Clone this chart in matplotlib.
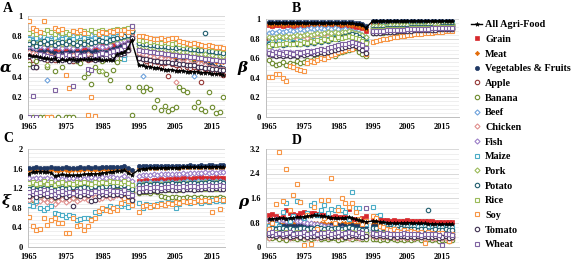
import matplotlib
matplotlib.use('Agg')
import matplotlib.pyplot as plt
from matplotlib.ticker import MultipleLocator, FixedLocator, FuncFormatter

plt.rcParams['font.family'] = ['Liberation Serif', 'DejaVu Serif']
plt.rcParams['font.weight'] = 'bold'

years = list(range(1965, 1994)) + list(range(1995, 2019))
xtick_years = [1965, 1975, 1985, 1995, 2005, 2015]
names = ['All Agri-Food', 'Grain', 'Meat', 'Vegetables & Fruits', 'Apple', 'Banana', 'Beef',
         'Chicken', 'Fish', 'Maize', 'Pork', 'Potato', 'Rice', 'Soy', 'Tomato', 'Wheat']

# ---------------- Panel A (alpha, x100) ----------------
A_all = [61,60,60,59,58,58,57,58,55,57, 56,57,57,56,57,57,57,57,57,57, 56,56,56,56,62,63,64,68,76,
         51,51,50,50,49,49,48,47,47,47, 46,46,46,45,45,45,45,44,44,44, 43,43,43,42]
A_grain = [67,68,66,67,68,67,68,66,67,66, 66,67,67,66,68,67,68,69,68,69, 70,69,70,71,72,72,73,76,82,
           68,67,67,66,66,66,65,65,64,64, 63,63,62,62,61,61,60,60,60,59, 59,58,58,57]
A_meat = [64,63,62,63,64,62,63,62,61,63, 62,62,63,62,63,63,64,63,64,63, 64,63,64,65,66,66,67,70,80,
          62,62,61,61,60,60,59,59,59,58, 58,58,57,57,57,56,56,56,55,55, 55,54,54,54]
A_veg = [66,65,65,64,66,64,65,63,62,64, 63,64,65,63,64,64,65,64,65,64, 65,64,66,67,69,70,71,73,84,
         60,60,59,59,58,58,57,57,56,56, 55,55,55,54,54,53,53,52,52,51, 51,50,50,49]
A_apple = [55,52,50,60,58,56,57,56,60,58, 59,57,55,56,57,58,56,57,58,59, 60,58,59,61,62,62,64,66,78,
           58,57,55,52,56,54,50,53,41,52, 51,48,52,50,49,50,49,35,48,47, 45,46,44,42]
A_banana = [52,0,55,0,0,50,0,46,0,50, 0,0,0,55,53,40,44,33,50,46, 55,43,37,47,54,58,60,30,2,
            30,26,30,28,10,17,7,11,6,8, 10,30,27,25,55,10,15,8,6,25, 10,4,5,20]
A_beef = [78,77,77,80,78,37,78,79,80,79, 80,81,80,79,80,81,80,81,82,80, 79,80,81,82,80,83,60,82,86,
          73,41,72,71,72,70,71,70,70,69, 71,70,69,68,69,41,66,67,66,67, 66,65,65,64]
A_chicken = [64,63,62,61,60,62,60,59,61,60, 58,60,61,59,60,61,62,60,61,62, 63,61,62,64,65,66,67,68,80,
             63,62,61,60,59,60,58,57,57,56, 35,55,54,55,53,52,53,52,51,50, 50,49,48,48]
A_fish = [70,69,68,70,69,71,68,70,69,68, 70,69,68,70,69,71,70,69,71,70, 69,70,71,58,73,75,76,78,86,
          67,66,66,65,65,64,64,63,63,63, 62,62,61,61,61,60,60,59,59,59, 58,58,57,57]
A_maize = [77,76,78,75,79,77,76,78,75,77, 78,76,77,79,76,78,77,76,78,77, 79,78,77,79,80,81,57,82,85,
           72,71,71,70,70,71,69,70,68,69, 68,69,67,68,67,66,67,65,66,65, 64,65,63,64]
A_pork = [74,73,72,74,73,51,72,74,73,72, 74,73,72,74,73,74,72,73,74,75, 46,74,75,76,77,78,79,80,85,
          70,69,69,68,68,67,67,66,66,66, 65,65,64,64,63,63,63,62,62,61, 61,60,60,60]
A_potato = [72,74,70,73,75,72,74,71,73,74, 72,75,73,71,74,72,75,73,74,76, 75,74,76,77,78,79,80,81,85,
            73,72,72,71,71,70,70,70,69,69, 68,69,68,68,67,67,66,66,83,65, 65,64,64,63]
A_rice = [83,85,82,84,83,86,84,82,85,83, 84,82,85,83,84,85,83,86,84,85, 86,84,85,86,87,86,87,88,90,
          76,75,76,74,75,74,73,74,73,72, 73,72,71,72,71,70,71,70,70,69, 69,68,68,67]
A_soy = [95,88,86,84,95,0,0,88,86,87, 42,29,85,84,86,83,2,20,1,82, 84,83,85,84,86,82,86,84,88,
         80,80,79,78,77,77,78,76,77,78, 78,75,74,73,72,73,72,71,70,71, 70,69,69,68]
A_tomato = [60,50,50,58,57,59,56,58,57,56, 58,55,57,56,58,59,57,58,56,57, 58,59,60,61,62,62,63,66,78,
            58,57,57,56,55,55,54,54,54,53, 53,52,52,51,51,51,50,50,49,49, 48,48,47,47]
A_wheat = [0,21,0,62,61,60,59,27,61,60, 62,61,31,62,60,61,48,47,61,62, 63,62,64,65,66,67,70,72,90,
           66,65,65,64,64,63,63,62,62,61, 61,60,60,60,59,59,58,58,57,57, 56,56,55,55]

# ---------------- Panel B (beta, x100) ----------------
B_all = [96,96,96,96,96,96,96,96,96,96, 96,96,96,96,96,96,96,96,96,96, 96,96,96,96,96,95,95,94,91,
         98,98,98,98,98,98,98,98,98,98, 98,98,98,98,98,98,98,98,98,98, 98,98,98,98]
B_grain = [94,93,94,94,93,94,94,93,94,93, 94,94,93,94,94,93,94,93,94,94, 93,93,94,93,93,92,92,91,88,
           95,95,95,94,95,95,95,94,95,95, 94,95,95,95,94,95,95,94,95,95, 94,95,94,94]
B_meat = [95,94,95,95,94,95,95,94,95,95, 94,95,95,94,95,95,94,95,95,94, 95,94,95,94,94,94,93,92,90,
          96,96,96,96,96,96,96,96,96,96, 96,96,96,96,96,96,96,96,96,96, 96,96,96,96]
B_veg = [97,97,97,97,97,97,97,97,97,97, 97,97,97,97,97,97,97,97,97,97, 97,97,97,97,97,96,96,95,93,
         98,98,98,98,98,98,98,98,98,98, 98,98,98,98,98,98,98,98,98,98, 98,98,98,98]
B_apple = [80,81,80,82,81,80,82,81,82,83, 82,81,83,82,84,83,82,84,83,85, 84,83,84,85,84,83,82,80,78,
           88,88,89,89,89,90,90,90,90,90, 91,91,91,91,92,92,92,92,92,93, 93,93,93,93]
B_banana = [58,55,53,54,56,53,55,54,57,55, 56,58,57,59,60,62,61,63,64,62, 65,66,67,68,69,70,66,64,62,
            86,86,87,86,87,87,88,87,88,88, 88,88,89,88,89,89,89,89,90,89, 90,90,90,90]
B_beef = [86,87,86,88,87,88,89,88,89,90, 89,90,91,90,91,91,90,91,90,91, 90,89,90,89,88,87,86,84,82,
          93,93,93,94,93,94,94,94,94,94, 94,95,94,95,95,95,95,95,95,95, 95,95,95,95]
B_chicken = [77,78,77,79,78,79,80,79,80,81, 80,81,82,81,82,83,82,83,84,83, 84,84,85,85,84,83,82,81,78,
             91,91,91,92,91,92,92,92,92,93, 92,93,93,93,93,93,94,93,94,94, 94,94,94,94]
B_fish = [68,67,66,67,66,65,66,65,64,66, 65,66,67,66,67,68,67,68,69,70, 71,72,73,74,75,74,73,71,70,
          87,87,87,88,88,88,88,88,89,89, 89,89,89,89,90,90,90,90,90,90, 90,91,91,91]
B_maize = [76,77,75,78,77,76,78,77,76,78, 77,76,78,79,78,80,79,80,81,82, 81,82,83,84,85,84,83,81,79,
           92,92,92,93,93,93,93,93,93,93, 94,94,94,94,94,94,94,94,94,94, 95,94,95,95]
B_pork = [82,81,82,83,82,83,82,83,84,83, 84,85,84,85,86,85,86,87,86,87, 86,87,87,88,87,86,85,84,82,
          93,93,93,93,93,94,94,94,94,94, 94,94,94,94,94,94,95,95,95,95, 95,95,95,95]
B_potato = [74,73,75,74,73,75,74,76,75,74, 76,75,77,76,78,77,79,78,80,81, 80,82,83,84,85,84,82,80,77,
            90,90,90,90,91,91,91,91,91,91, 91,92,92,92,92,92,92,92,92,92, 93,93,93,93]
B_rice = [72,74,73,75,74,76,75,74,76,75, 77,76,78,77,79,78,80,79,81,80, 82,81,82,83,82,81,80,78,76,
          89,89,89,89,90,90,90,90,90,90, 90,91,91,91,91,91,91,91,92,92, 92,92,92,92]
B_soy = [41,41,44,44,40,37,52,51,49,48, 47,55,57,56,58,60,59,61,63,64, 66,67,68,70,69,71,72,70,64,
         77,78,79,80,80,81,82,82,83,83, 84,84,85,85,85,86,86,86,87,87, 87,88,88,88]
B_tomato = [64,63,62,63,62,63,62,63,62,64, 63,64,65,64,65,66,65,66,67,68, 69,70,71,72,73,72,70,68,65,
            86,86,86,87,87,87,87,88,88,88, 88,88,89,89,89,89,89,89,89,90, 90,90,90,90]
B_wheat = [65,64,66,65,64,66,65,64,66,65, 66,67,66,67,68,69,68,70,71,72, 73,74,75,76,77,76,75,73,70,
           88,88,88,88,89,89,89,89,89,89, 90,90,90,90,90,90,90,91,91,91, 91,91,91,91]

# ---------------- Panel C (xi, x100) ----------------
C_all = [150,153,154,154,154,153,152,145,146,148, 147,147,146,147,147,148,149,150,149,150, 151,152,153,154,155,155,157,152,147,
         158,160,160,161,161,161,161,162,162,162, 162,162,163,163,163,163,163,163,164,164, 164,164,164,164]
C_grain = [120,118,122,119,117,121,118,116,120,117, 115,119,116,118,120,117,119,121,118,120, 122,119,121,123,124,122,125,120,115,
           135,134,136,135,137,136,138,137,139,138, 140,139,141,140,139,141,140,142,141,140, 141,142,141,140]
C_meat = [158,157,158,159,158,157,158,157,156,157, 158,156,157,158,157,158,159,158,157,158, 159,158,159,160,160,159,161,158,156,
          161,161,162,162,162,162,163,162,163,163, 163,162,163,164,163,163,164,164,163,164, 164,164,163,164]
C_veg = [162,162,163,162,161,162,163,162,161,162, 163,162,161,162,163,162,163,162,163,162, 163,164,163,164,164,163,165,162,158,
         165,165,165,166,165,166,165,166,166,165, 166,166,166,166,167,166,166,167,166,167, 167,166,167,167]
C_apple = [110,108,112,110,113,111,109,112,114,112, 110,115,113,111,114,116,112,115,117,114, 116,118,115,117,119,118,120,116,112,
           125,126,127,126,128,127,129,128,129,130, 129,131,130,131,130,132,131,130,132,131, 133,132,131,133]
C_banana = [97,96,99,98,100,97,101,99,102,100, 103,98,101,104,102,105,107,104,108,110, 112,111,113,115,117,116,118,114,110,
            110,112,113,111,114,112,104,103,101,103, 102,100,101,102,100,103,101,102,100,101, 99,100,102,101]
C_beef = [128,127,125,129,126,128,124,127,126,129, 125,128,127,126,129,128,127,130,129,128, 131,130,129,132,131,130,133,128,124,
          130,131,130,132,131,130,132,131,133,132, 131,133,132,134,133,132,134,133,135,134, 133,135,134,133]
C_chicken = [95,97,90,94,98,92,96,88,93,97, 91,95,99,94,97,100,96,99,102,98, 101,104,100,103,106,104,108,102,98,
             120,121,119,122,121,120,123,122,121,124, 123,122,124,123,125,124,123,125,124,126, 125,124,126,125]
C_fish = [140,139,141,140,138,141,139,137,140,138, 139,141,140,138,141,139,140,142,141,139, 142,141,143,142,141,140,144,138,134,
          145,146,147,146,148,147,148,149,148,150, 149,150,151,150,151,152,151,152,153,152, 153,152,153,153]
C_maize = [86,84,93,80,76,80,83,70,68,65, 62,66,64,56,58,59,60,57,72,70, 76,78,83,80,82,84,88,82,93,
           90,79,88,86,84,88,90,86,92,90, 80,88,94,92,89,95,93,90,94,92, 96,93,95,94]
C_pork = [125,124,126,123,125,127,124,126,123,125, 127,124,126,128,125,127,126,128,127,129, 128,130,129,131,130,129,132,127,123,
          127,128,127,129,128,127,129,128,130,129, 128,130,129,131,130,129,131,130,132,131, 130,132,131,130]
C_potato = [118,120,117,119,121,118,120,116,119,121, 118,120,122,119,121,123,120,122,124,121, 123,125,122,124,126,125,127,122,118,
            126,127,128,127,129,128,127,129,128,130, 129,128,130,129,131,130,129,131,130,132, 131,130,132,131]
C_rice = [130,133,128,131,134,129,132,127,130,133, 128,131,129,132,130,133,131,129,132,130, 133,131,134,132,133,131,135,130,126,
          115,116,117,116,118,117,116,118,117,119, 118,117,119,118,120,119,118,120,119,121, 120,119,121,120]
C_soy = [61,42,34,37,59,45,56,59,50,48, 28,28,59,42,45,35,42,56,60,73, 79,76,73,79,76,90,100,93,86,
         72,83,85,82,86,84,88,86,90,88, 92,90,93,91,94,92,95,93,96,94, 72,97,77,95]
C_tomato = [105,108,103,106,109,104,107,102,105,108, 103,106,83,107,105,108,106,93,95,105, 108,106,109,107,108,106,110,104,95,
            113,114,115,114,116,115,117,116,118,117, 116,118,117,119,118,117,119,118,120,119, 118,120,119,118]
C_wheat = [112,115,110,113,116,111,114,109,112,115, 110,113,111,114,112,115,113,111,114,112, 115,113,116,114,115,113,117,111,107,
           120,121,122,121,123,122,121,123,122,124, 123,122,124,123,125,124,123,125,124,126, 125,124,126,125]

# ---------------- Panel D (rho, x100) ----------------
D_all = [92,92,93,94,95,93,95,96,97,98, 99,101,102,104,103,102,100,98,96,95, 94,95,96,98,95,90,88,86,82,
         85,84,82,81,80,79,78,78,78,79, 80,79,78,77,77,77,76,76,76,75, 75,75,75,75]
D_grain = [105,108,100,95,98,120,110,108,105,112, 115,108,110,112,108,110,103,100,98,102, 97,99,97,125,93,90,92,95,102,
           95,95,90,88,87,86,87,86,85,86, 87,86,85,84,84,85,84,84,83,83, 83,82,82,82]
D_meat = [75,76,74,77,75,76,78,77,76,78, 77,79,78,77,79,78,77,76,78,77, 76,77,78,79,78,76,75,74,73,
          74,74,73,73,73,72,72,72,72,72, 71,71,71,71,71,70,70,70,70,70, 70,70,70,70]
D_veg = [70,71,69,72,70,71,69,70,72,71, 70,69,71,70,72,71,70,69,71,70, 72,71,70,69,71,70,69,68,67,
         70,69,69,68,68,68,67,67,67,67, 67,66,66,66,66,66,65,65,65,65, 65,65,65,64]
D_apple = [45,42,46,43,44,41,45,43,42,44, 46,43,45,42,44,46,43,45,47,44, 46,43,45,47,44,42,41,43,40,
           40,41,39,40,42,40,41,39,40,41, 38,40,39,41,40,39,38,40,39,38, 40,39,38,37]
D_banana = [30,28,32,26,30,24,28,31,27,29, 25,30,26,28,32,27,29,25,30,28, 24,27,29,31,26,28,30,27,25,
            25,27,24,26,23,28,25,22,27,24, 26,23,25,28,24,22,26,23,25,21, 24,22,20,23]
D_beef = [55,57,53,56,58,54,57,55,53,56, 58,54,57,55,59,56,54,57,55,58, 56,54,57,59,56,55,53,52,50,
          55,54,53,55,52,54,53,51,54,52, 53,51,52,50,53,51,52,50,51,49, 50,52,50,49]
D_chicken = [28,40,35,38,33,36,30,34,37,32, 35,31,36,33,30,34,37,32,35,38, 33,36,34,31,35,33,30,32,35,
             35,33,36,34,32,35,33,31,34,32, 30,33,31,34,32,30,33,31,29,32, 30,31,29,30]
D_fish = [88,86,90,87,89,85,88,90,86,84, 82,80,78,76,75,72,70,68,66,65, 63,62,60,58,57,55,54,52,50,
          55,54,53,54,52,53,51,52,50,51, 49,50,48,49,47,48,46,47,45,46, 44,45,43,44]
D_maize = [70,72,75,68,113,143,86,100,150,148, 95,110,138,143,105,120,138,110,125,120, 130,120,115,90,178,128,126,80,75,
           130,100,103,80,75,72,73,70,71,69, 70,72,68,69,70,67,68,66,67,65, 66,64,65,64]
D_pork = [50,52,48,51,53,49,52,50,48,51, 53,49,52,50,54,51,49,52,50,53, 51,49,52,54,51,50,48,47,46,
          50,49,48,50,47,49,48,46,49,47, 48,46,47,45,48,46,47,45,46,44, 45,47,45,44]
D_potato = [60,62,58,61,63,59,62,60,58,61, 63,59,62,60,64,61,59,62,60,63, 61,59,62,64,61,60,58,57,56,
            62,61,60,62,59,61,60,58,61,59, 60,58,59,57,60,58,120,57,58,56, 57,59,57,56]
D_rice = [48,45,50,47,44,49,46,43,48,45, 50,47,44,49,46,43,48,45,50,47, 44,49,46,43,48,45,44,46,42,
          45,46,44,47,43,45,44,42,45,43, 44,42,43,41,44,42,43,41,42,40, 41,43,41,40]
D_soy = [60,80,140,310,150,255,120,170,206,148, 5,105,10,132,60,154,95,154,225,80, 120,160,143,132,143,115,90,75,85,
         100,95,70,65,60,55,58,52,50,55, 48,52,50,45,48,13,50,46,44,47, 45,42,20,44]
D_tomato = [40,38,35,42,37,39,33,36,40,34, 38,32,37,35,39,33,36,38,34,37, 35,39,33,36,38,35,37,34,36,
            38,36,39,35,37,34,38,33,36,35, 32,37,34,36,33,35,32,34,36,31, 33,35,30,32]
D_wheat = [45,48,44,47,42,46,49,43,47,45, 48,44,46,49,43,47,45,48,44,46, 50,44,47,49,45,43,48,46,128,
           45,44,46,43,45,42,44,41,43,45, 42,44,41,43,40,42,44,41,43,40, 7,42,41,40]

panel_A = [A_all, A_grain, A_meat, A_veg, A_apple, A_banana, A_beef, A_chicken, A_fish, A_maize,
           A_pork, A_potato, A_rice, A_soy, A_tomato, A_wheat]
panel_B = [B_all, B_grain, B_meat, B_veg, B_apple, B_banana, B_beef, B_chicken, B_fish, B_maize,
           B_pork, B_potato, B_rice, B_soy, B_tomato, B_wheat]
panel_C = [C_all, C_grain, C_meat, C_veg, C_apple, C_banana, C_beef, C_chicken, C_fish, C_maize,
           C_pork, C_potato, C_rice, C_soy, C_tomato, C_wheat]
panel_D = [D_all, D_grain, D_meat, D_veg, D_apple, D_banana, D_beef, D_chicken, D_fish, D_maize,
           D_pork, D_potato, D_rice, D_soy, D_tomato, D_wheat]

for pname, panel in zip('ABCD', [panel_A, panel_B, panel_C, panel_D]):
    for n, s in zip(names, panel):
        if len(s) != len(years):
            raise ValueError(f'{pname} {n} has {len(s)} values')

# style: (marker, color, filled, size)
styles = [
    ('*', '#000000', True, 3.2),
    ('s', '#D7282C', True, 3.0),
    ('D', '#E36C0A', True, 2.2),
    ('o', '#1F3864', True, 3.0),
    ('o', '#953735', False, 3.2),
    ('o', '#6E8B2E', False, 3.2),
    ('D', '#6FA3DC', False, 2.6),
    ('D', '#E0908E', False, 2.6),
    ('D', '#9B7FC8', False, 2.6),
    ('s', '#4BACC6', False, 3.0),
    ('D', '#9BBB59', False, 2.6),
    ('o', '#215E6E', False, 3.2),
    ('s', '#9BBB59', False, 3.0),
    ('s', '#F79646', False, 3.0),
    ('o', '#403151', False, 3.2),
    ('s', '#8064A2', False, 3.0),
]

W, H = 575, 260
fig = plt.figure(figsize=(W / 100, H / 100), dpi=100)


def fmt(v, pos):
    s = f'{v:.1f}'
    if s.endswith('.0'):
        s = s[:-2]
    return s


def make_panel(px, xlim, ymax, ystep, data, letter, letter_xy, sym, sym_xy):
    l, t, r, b = px
    ax = fig.add_axes([l / W, 1 - b / H, (r - l) / W, (b - t) / H])
    ax.set_xlim(*xlim)
    ax.set_ylim(0, ymax)
    ax.yaxis.set_major_locator(MultipleLocator(ystep))
    ax.yaxis.set_minor_locator(MultipleLocator(ystep / 5))
    ax.yaxis.set_major_formatter(FuncFormatter(fmt))
    ax.xaxis.set_major_locator(FixedLocator(xtick_years))
    ax.grid(which='major', axis='y', color='#D9D9D9', lw=0.7)
    ax.grid(which='minor', axis='y', color='#EDEDED', lw=0.6)
    ax.set_axisbelow(True)
    ax.tick_params(which='both', length=0, labelsize=6.0)
    ax.tick_params(axis='x', pad=4)
    ax.tick_params(axis='y', pad=4)
    for lab in ax.get_xticklabels() + ax.get_yticklabels():
        lab.set_fontweight('bold')
    for sp in ['top', 'right']:
        ax.spines[sp].set_visible(False)
    for sp in ['left', 'bottom']:
        ax.spines[sp].set_color('#BFBFBF')
        ax.spines[sp].set_linewidth(0.7)
    handles = []
    for i in range(1, 16):
        m, c, filled, ms = styles[i]
        vals = [v / 100 for v in data[i]]
        h, = ax.plot(years, vals, linestyle='none', marker=m, ms=ms,
                     markerfacecolor=c if filled else 'white', markeredgecolor=c,
                     markeredgewidth=0.5 if filled else 0.8, zorder=3, label=names[i])
        handles.append(h)
    m, c, filled, ms = styles[0]
    h0, = ax.plot(years, [v / 100 for v in data[0]], color='black', lw=1.0, marker=m, ms=ms,
                  markeredgewidth=0.4, zorder=5, label=names[0])
    handles.insert(0, h0)
    fig.text(letter_xy[0] / W, 1 - letter_xy[1] / H, letter, fontsize=10, fontweight='bold',
             ha='left', va='center', family=['Liberation Serif'])
    fig.text(sym_xy[0] / W, 1 - sym_xy[1] / H, sym, fontsize=11, fontweight='bold',
             fontstyle='italic', ha='center', va='center', family=['DejaVu Serif'])
    return ax, handles


axA, handles = make_panel((28, 16, 225, 117), (1964.73, 2018.5), 1.0, 0.2, panel_A,
                          'A', (3, 8), 'α', (6, 68))
axB, _ = make_panel((266, 19, 459, 117), (1964.14, 2019.9), 1.0, 0.2, panel_B,
                    'B', (292, 9), 'β', (243, 68))
axC, _ = make_panel((28, 149, 225, 247), (1964.73, 2018.5), 2.0, 0.4, panel_C,
                    'C', (3, 139), 'ξ', (6, 201))
axD, _ = make_panel((266, 149, 459, 247), (1964.14, 2019.9), 3.2, 0.8, panel_D,
                    'D', (292, 141), 'ρ', (243, 202))

fig.legend(handles=handles, labels=names, loc='upper left',
           bbox_to_anchor=(466 / W, 1 - 15 / H), frameon=False,
           handlelength=1.1, handletextpad=0.3, labelspacing=0.55, borderpad=0,
           prop={'weight': 'bold', 'size': 7.3})

fig.savefig('out.png', dpi=100)
